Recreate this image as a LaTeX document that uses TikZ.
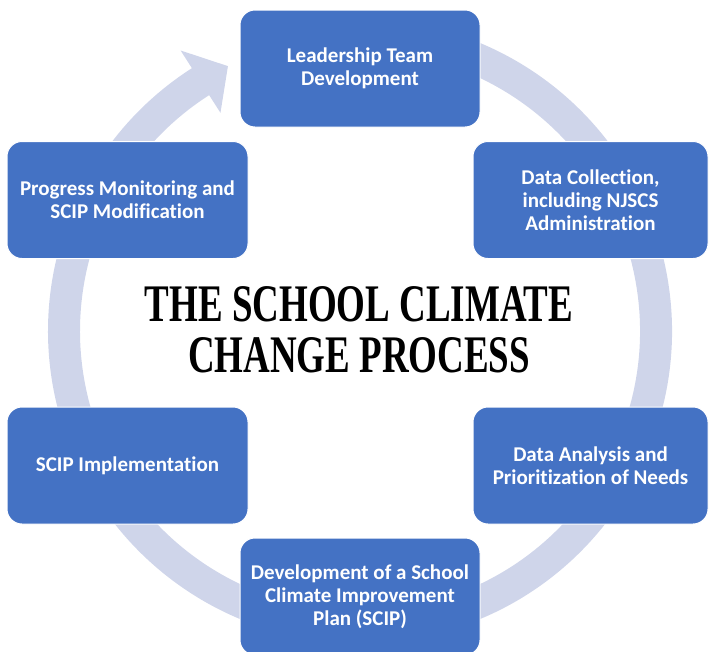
\documentclass[tikz,border=0pt]{standalone}
\usepackage{fontspec}
\setmainfont{Liberation Serif}
\newfontfamily\boxfont[Ligatures=NoCommon]{Carlito}
\usetikzlibrary{calc}
\definecolor{boxblue}{HTML}{4472C4}
\definecolor{ringcol}{HTML}{CFD5EA}
\begin{document}
\begin{tikzpicture}[x=1pt,y=-1pt,
  stage/.style={draw=white, line width=1pt, fill=boxblue, rounded corners=15pt,
    minimum width=240pt, minimum height=117pt, inner sep=0pt, text=white, align=center,
    font=\boxfont\fontsize{21}{23}\selectfont\bfseries},
  titletext/.style={anchor=base, inner sep=0pt, font=\fontsize{44}{44}\selectfont\bfseries}]
\useasboundingbox (0,0) rectangle (709,651);
\coordinate (c) at (360,331);
% circular arrow ring
\draw[ringcol, line width=32pt] ($(c)+(-100:296)$) arc[start angle=-100, end angle=237.6, radius=296];
\fill[ringcol] ($(c)+(237.4:333)$) -- ($(c)+(243.5:296)$) -- ($(c)+(237.4:259)$) -- cycle;
% stages
\node[stage] (lead) at (360,68.5) {Leadership Team\\Development};
\node[stage, minimum width=235pt] (collect) at (590.5,200) {Data Collection,\\including NJSCS\\Administration};
\node[stage, minimum width=235pt] (analysis) at (590.5,465.5) {Data Analysis and\\Prioritization of Needs};
\node[stage] (plan) at (360,596.5) {Development of a School\\Climate Improvement\\Plan (SCIP)};
\node[stage, minimum width=241pt] (impl) at (127.5,465.5) {SCIP Implementation};
\node[stage, minimum width=241pt] (monitor) at (127.5,200) {Progress Monitoring and\\SCIP Modification};
% title
\node[titletext] (t1) at (359,321) {\scalebox{0.84}[1.2]{THE SCHOOL CLIMATE}};
\node[titletext] (t2) at (359,372) {\scalebox{0.84}[1.2]{CHANGE PROCESS}};
\end{tikzpicture}
\end{document}
